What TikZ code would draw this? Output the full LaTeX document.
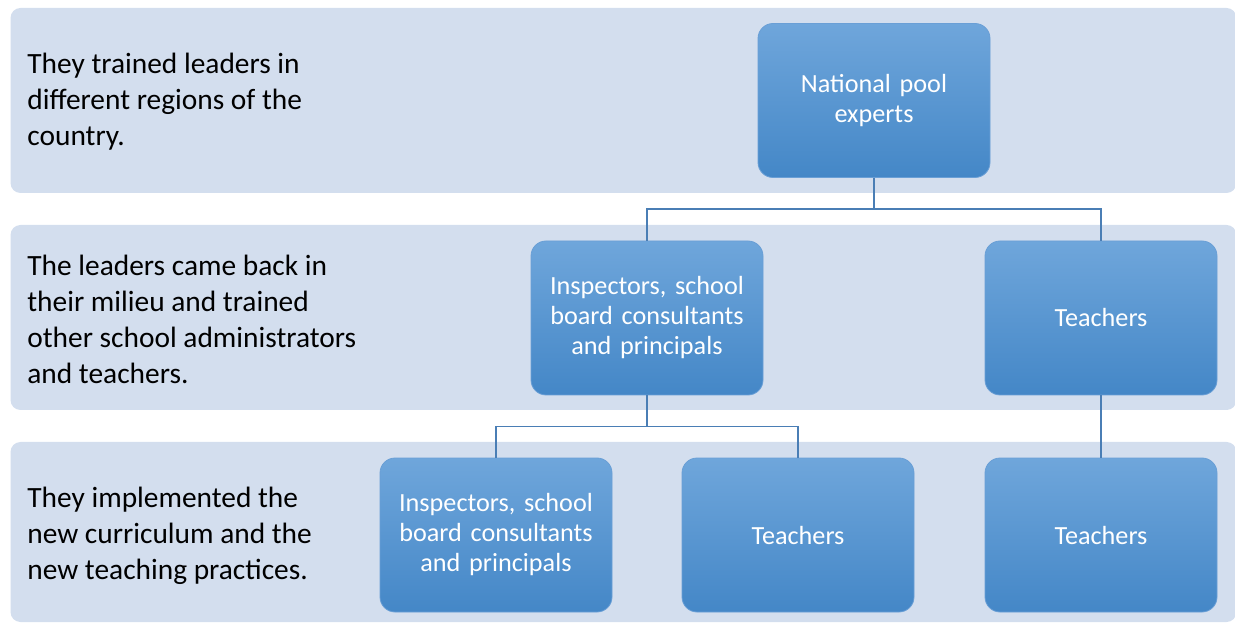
\documentclass[tikz,border=0pt]{standalone}
\usepackage{fontspec}
\setmainfont{Carlito}
\definecolor{bandfill}{HTML}{D3DEEE}
\definecolor{boxtop}{HTML}{6FA6DB}
\definecolor{boxbot}{HTML}{4487C7}
\definecolor{boxedge}{HTML}{6A9FD6}
\definecolor{linkcol}{HTML}{4A7EB5}

\begin{document}
\begin{tikzpicture}[x=0.5pt,y=-0.5pt,
		band/.style ={rectangle, rounded corners=5pt, fill=bandfill, minimum width=613pt, minimum height=92.5pt},
		note/.style ={anchor=west, align=left, inner sep=0pt, font=\fontsize{14.7}{18}\selectfont},
		block/.style ={rectangle, rounded corners=7.5pt, draw=boxedge, thin, top color=boxtop, bottom color=boxbot, text=white, align=center, text width=108pt, minimum width=116pt, minimum height=77pt, font=\fontsize{13.1}{15}\selectfont},
		link/.style ={draw=linkcol, line width=0.7pt}]
		\useasboundingbox (0,0) rectangle (1235,624);
		\node[band] (b1) at (623.5,100.5) {};
		\node[band] (b2) at (623.5,317.5) {};
		\node[band, minimum height=90pt] (b3) at (623.5,532) {};
		\node[note] (t1) at (27,102) {They trained leaders in\\different regions of the\\country.};
		\node[note] (t2) at (27,319) {The leaders came back in\\their milieu and trained\\other school administrators\\and teachers.};
		\node[note] (t3) at (27,536) {They implemented the\\new curriculum and the\\new teaching practices.};
		\node[block] (n1) at (874,100.5) {National pool\\experts};
		\node[block] (n2) at (647,318) {Inspectors, school\\board consultants\\and principals};
		\node[block] (n3) at (1101,318) {Teachers};
		\node[block] (n4) at (496,535) {Inspectors, school\\board consultants\\and principals};
		\node[block] (n5) at (798,535) {Teachers};
		\node[block] (n6) at (1101,535) {Teachers};
		\draw[link] (n1.south) -- ++(0,31) -| (n2.north);
		\draw[link] (n1.south) -- ++(0,31) -| (n3.north);
		\draw[link] (n2.south) -- ++(0,31) -| (n4.north);
		\draw[link] (n2.south) -- ++(0,31) -| (n5.north);
		\draw[link] (n3.south) -- (n6.north);
	\end{tikzpicture}
\end{document}
